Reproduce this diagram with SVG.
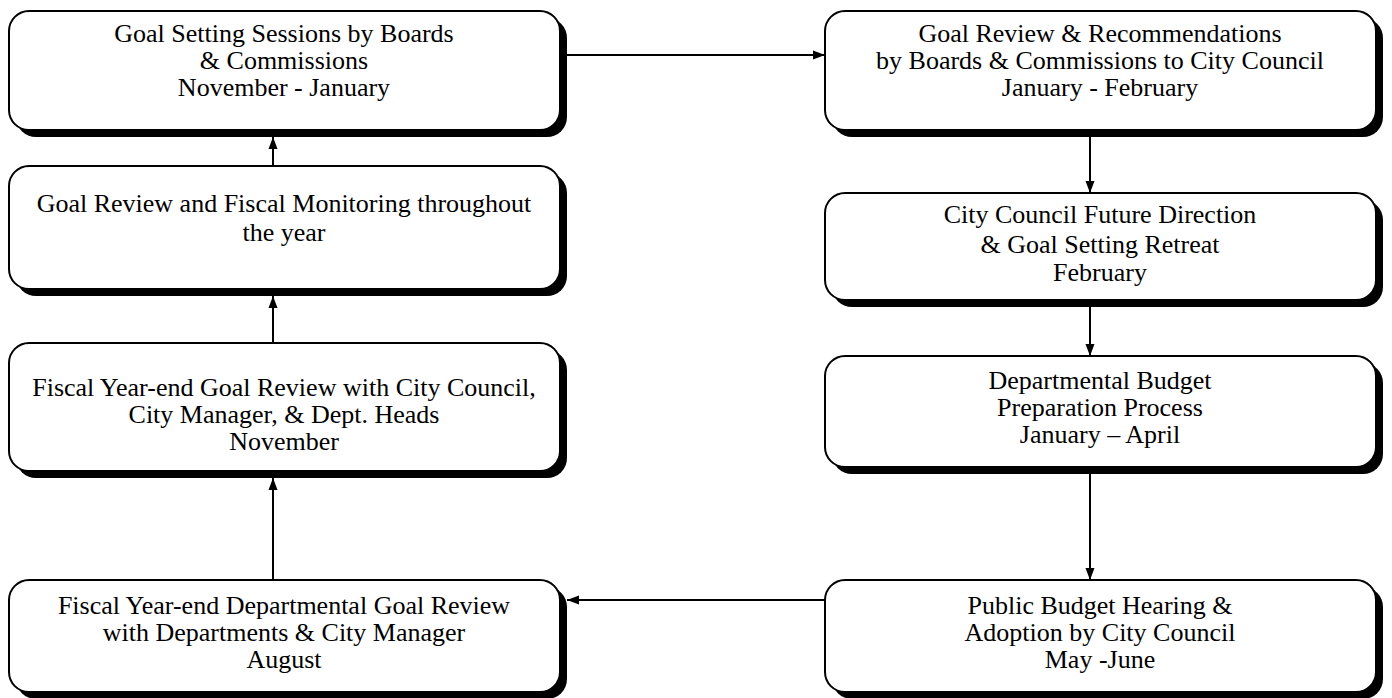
<svg xmlns="http://www.w3.org/2000/svg" width="1392" height="698" viewBox="0 0 1392 698">
<defs>
<style>
.sh{fill:#000}
.bx{fill:#fff;stroke:#000;stroke-width:2}
.t{font-family:"Liberation Serif","Times New Roman",serif;font-size:26px;fill:#000;text-anchor:middle}
.c{stroke:#000;stroke-width:2;fill:none}
</style>
<marker id="ah" viewBox="0 0 12 10" refX="12" refY="5" markerWidth="12" markerHeight="10" markerUnits="userSpaceOnUse" orient="auto">
<path d="M0,0.5 L12,5 L0,9.5 Z" fill="#000"/>
</marker>
</defs>
<rect width="1392" height="698" fill="#fff"/>
<g id="n1">
<rect class="sh" x="16" y="18" width="551" height="119" rx="20"/>
<rect class="bx" x="9" y="11" width="551" height="119" rx="20"/>
<text class="t" x="284" y="42">Goal Setting Sessions by Boards</text>
<text class="t" x="284" y="69">&amp; Commissions</text>
<text class="t" x="284" y="96">November - January</text>
</g>
<g id="n2">
<rect class="sh" x="832" y="18" width="551" height="119" rx="20"/>
<rect class="bx" x="825" y="11" width="551" height="119" rx="20"/>
<text class="t" x="1100" y="42">Goal Review &amp; Recommendations</text>
<text class="t" x="1100" y="69">by Boards &amp; Commissions to City Council</text>
<text class="t" x="1100" y="96">January - February</text>
</g>
<g id="n3">
<rect class="sh" x="832" y="200" width="551" height="107" rx="20"/>
<rect class="bx" x="825" y="193" width="551" height="107" rx="20"/>
<text class="t" x="1100" y="223">City Council Future Direction</text>
<text class="t" x="1100" y="253">&amp; Goal Setting Retreat</text>
<text class="t" x="1100" y="281">February</text>
</g>
<g id="n4">
<rect class="sh" x="832" y="363" width="551" height="111" rx="20"/>
<rect class="bx" x="825" y="356" width="551" height="111" rx="20"/>
<text class="t" x="1100" y="389">Departmental Budget</text>
<text class="t" x="1100" y="416">Preparation Process</text>
<text class="t" x="1100" y="443">January – April</text>
</g>
<g id="n5">
<rect class="sh" x="832" y="587" width="551" height="112" rx="20"/>
<rect class="bx" x="825" y="580" width="551" height="112" rx="20"/>
<text class="t" x="1100" y="614">Public Budget Hearing &amp;</text>
<text class="t" x="1100" y="641">Adoption by City Council</text>
<text class="t" x="1100" y="668">May -June</text>
</g>
<g id="n6">
<rect class="sh" x="16" y="587" width="551" height="112" rx="20"/>
<rect class="bx" x="9" y="580" width="551" height="112" rx="20"/>
<text class="t" x="284" y="614">Fiscal Year-end Departmental Goal Review</text>
<text class="t" x="284" y="641">with Departments &amp; City Manager</text>
<text class="t" x="284" y="668">August</text>
</g>
<g id="n7">
<rect class="sh" x="16" y="350" width="551" height="128" rx="20"/>
<rect class="bx" x="9" y="343" width="551" height="128" rx="20"/>
<text class="t" x="284" y="396">Fiscal Year-end Goal Review with City Council,</text>
<text class="t" x="284" y="423">City Manager, &amp; Dept. Heads</text>
<text class="t" x="284" y="450">November</text>
</g>
<g id="n8">
<rect class="sh" x="16" y="173" width="551" height="123" rx="20"/>
<rect class="bx" x="9" y="166" width="551" height="123" rx="20"/>
<text class="t" x="284" y="212">Goal Review and Fiscal Monitoring throughout</text>
<text class="t" x="284" y="241">the year</text>
</g>
<g id="connectors">
<line class="c" x1="567" y1="55" x2="825" y2="55" marker-end="url(#ah)"/>
<line class="c" x1="1090" y1="137" x2="1090" y2="193" marker-end="url(#ah)"/>
<line class="c" x1="1090" y1="307" x2="1090" y2="356" marker-end="url(#ah)"/>
<line class="c" x1="1090" y1="474" x2="1090" y2="580" marker-end="url(#ah)"/>
<line class="c" x1="825" y1="600" x2="567" y2="600" marker-end="url(#ah)"/>
<line class="c" x1="273" y1="580" x2="273" y2="478" marker-end="url(#ah)"/>
<line class="c" x1="273" y1="343" x2="273" y2="296" marker-end="url(#ah)"/>
<line class="c" x1="273" y1="166" x2="273" y2="137" marker-end="url(#ah)"/>
</g>
</svg>
